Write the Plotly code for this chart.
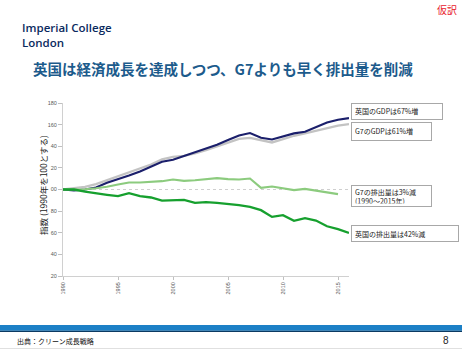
import plotly.graph_objects as go

years = list(range(1990, 2017))
uk_gdp = [100, 99.1, 100, 101.9, 106.2, 109.3, 113, 116.7, 121, 125.6, 127.5, 130.9, 134,
          137.7, 141.4, 145.7, 150, 152.2, 147.8, 146.3, 149, 151.9, 153.4, 158, 162, 164.5, 166]
g7_gdp = [100, 101.2, 102.5, 105, 108.6, 112, 115.4, 119.4, 123.1, 127.8, 130.2, 131.2, 133.3,
          136.4, 140.1, 143.8, 146.9, 147.8, 145.7, 143.5, 146.6, 149.7, 151.9, 154.3, 157.1, 159, 160.5]
g7_emis = [100, 100, 100.3, 101.2, 102.5, 104.6, 106.5, 106.5, 106.8, 107.7, 109.3, 108, 108.6,
           109.3, 110.5, 109.6, 109.3, 110.2, 101.5, 102.8, 100.9, 99.4, 100.6, 99.1, 97.5, 95.7]
uk_emis = [100, 100, 98.1, 96.3, 95.1, 93.8, 96.6, 93.8, 92.6, 89.8, 89.8, 90.4, 87.7,
           88.3, 87.7, 86.7, 85.5, 84, 80.9, 74.7, 76.2, 71, 73.5, 71.3, 66, 63.3, 59.9]

y_tickvals = [20, 40, 60, 80, 100, 120, 140, 160, 180]
y_ticktext = ["20", "40", "60", "80", "00", "20", "40", "160", "180"]
x_tickvals = [1990, 1995, 2000, 2005, 2010, 2015]

labels = ["英国のGDPは67%増", "G7のGDPは61%増", "G7の排出量は3%減<br>(1990～2015年)", "英国の排出量は42%減"]

W, H = 462, 350
L, R, T, B = 63, 113, 103, 74
PW, PH = W - L - R, H - T - B

def px(xp):
    return (xp - L) / PW

def py(yp):
    return (H - B - yp) / PH

fig = go.Figure()
series = [
    (g7_gdp, "#c3c3c3", 2.3),
    (uk_gdp, "#1b1f6b", 2.1),
    (g7_emis, "#8ccb7e", 2.1),
    (uk_emis, "#16a02e", 2.3),
]
for vals, col, w in series:
    fig.add_trace(go.Scatter(x=years[:len(vals)], y=vals, mode="lines",
                             line=dict(color=col, width=w), showlegend=False,
                             hoverinfo="skip"))

jp = "Noto Sans CJK JP"

fig.update_layout(
    width=W, height=H, autosize=False,
    margin=dict(l=L, r=R, t=T, b=B, pad=0),
    paper_bgcolor="white", plot_bgcolor="white",
    font=dict(family=jp, color="#333333"),
    xaxis=dict(range=[1990, 2016], tickvals=x_tickvals, ticktext=[str(v) for v in x_tickvals],
               tickangle=-90, tickfont=dict(size=5.5, color="#595959", family="Liberation Sans"),
               showgrid=False, zeroline=False, showline=True, linecolor="#d0d0d0", linewidth=1,
               ticks="outside", ticklen=3, tickcolor="#c0c0c0"),
    yaxis=dict(range=[20, 180], tickvals=y_tickvals, ticktext=y_ticktext,
               tickfont=dict(size=5.5, color="#595959", family="Liberation Sans"),
               showgrid=False, zeroline=False, showline=True, linecolor="#d0d0d0", linewidth=1,
               ticks="outside", ticklen=4, tickcolor="#c0c0c0"),
)

shapes = []
shapes.append(dict(type="line", xref="paper", yref="y", x0=0, x1=px(355), y0=100, y1=100,
                   line=dict(color="#cfcfcf", width=1, dash="dot"), layer="below"))
shapes.append(dict(type="rect", xref="paper", yref="paper", x0=px(0), x1=px(W), y0=py(330.7), y1=py(325),
                   fillcolor="#1c80c6", line=dict(width=0)))
shapes.append(dict(type="rect", xref="paper", yref="paper", x0=px(0), x1=px(W), y0=py(332), y1=py(330.7),
                   fillcolor="#0c3a62", line=dict(width=0)))
shapes.append(dict(type="line", xref="paper", yref="paper", x0=px(0), x1=px(W), y0=py(348.5), y1=py(348.5),
                   line=dict(color="#e0e0e0", width=1)))
fig.update_layout(shapes=shapes)

ann = []
boxes = [(350.7, 103.3, 442.7, 120.0), (350.7, 122.3, 431.7, 141.0),
         (350.7, 184.3, 431.7, 206.7), (350.7, 224.3, 458.3, 241.7)]
pad = 3
for text, (x0, y0, x1, y1) in zip(labels, boxes):
    ann.append(dict(xref="paper", yref="paper", x=px(x0), y=py((y0 + y1) / 2),
                    xanchor="left", yanchor="middle", text=text, showarrow=False, align="left",
                    font=dict(size=7, color="#222222", family=jp),
                    bordercolor="#a8a8a8", borderwidth=1, borderpad=pad, bgcolor="white",
                    width=x1 - x0 - 2 * pad - 2, height=y1 - y0 - 2 * pad - 2, valign="middle"))

ann.append(dict(xref="paper", yref="paper", x=px(20), y=py(34.5), xanchor="left", yanchor="middle",
                text="Imperial College<br>London", showarrow=False, align="left",
                font=dict(size=11.5, color="#0a2a5e", family="Open Sans", weight=600)))
ann.append(dict(xref="paper", yref="paper", x=px(222.5), y=py(68.5), xanchor="center", yanchor="middle",
                text="<b>英国は経済成長を達成しつつ、G7よりも早く排出量を削減</b>", showarrow=False,
                font=dict(size=14.5, color="#1c5b8c", family=jp)))
ann.append(dict(xref="paper", yref="paper", x=px(459), y=py(9.5), xanchor="right", yanchor="middle",
                text="仮訳", showarrow=False, font=dict(size=10, color="#e8202a", family=jp)))
ann.append(dict(xref="paper", yref="paper", x=px(43), y=py(185), xanchor="center", yanchor="middle",
                text="指数 (1990年を100とする)", textangle=-90, showarrow=False,
                font=dict(size=8.5, color="#222222", family=jp)))
ann.append(dict(xref="paper", yref="paper", x=px(15), y=py(340.7), xanchor="left", yanchor="middle",
                text="出典：クリーン成長戦略", showarrow=False, font=dict(size=7, color="#111111", family=jp)))
ann.append(dict(xref="paper", yref="paper", x=px(451), y=py(340.7), xanchor="right", yanchor="middle",
                text="8", showarrow=False, font=dict(size=10, color="#222222", family="Liberation Sans")))
fig.update_layout(annotations=ann)

fig.write_html("out.html")
